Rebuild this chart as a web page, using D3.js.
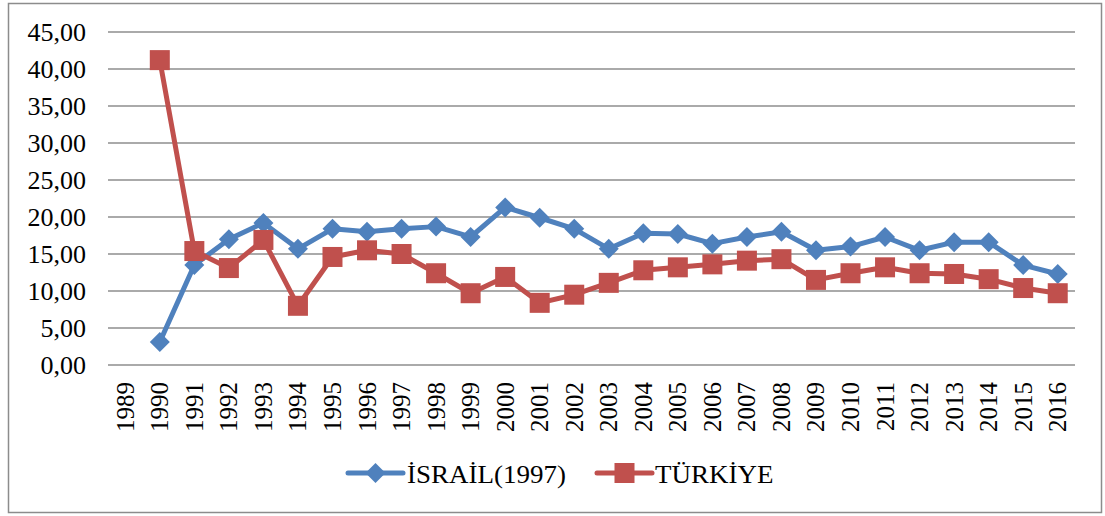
<!DOCTYPE html>
<html>
<head>
<meta charset="utf-8">
<script src="https://cdn.jsdelivr.net/npm/d3@7"></script>
<style>
  body { margin: 0; background: #fff; }
  text { font-family: "Liberation Serif", "Times New Roman", serif; fill: #000; }
</style>
</head>
<body>
<div id="chart"></div>
<script>
// years on the category axis
const years = d3.range(1989, 2017).map(String);
const yTicks = [0, 5, 10, 15, 20, 25, 30, 35, 40, 45];

// İsrail (1997) series, 1989 has no value
const israil = [null, 3.1, 13.5, 17.0, 19.2, 15.7, 18.4, 18.0, 18.4, 18.7, 17.3,
    21.3, 19.9, 18.4, 15.7, 17.8, 17.7, 16.4, 17.3, 18.0, 15.5,
    16.0, 17.3, 15.5, 16.6, 16.6, 13.5, 12.3];

// Türkiye series
const turkiye = [null, 41.2, 15.4, 13.1, 16.9, 8.0, 14.6, 15.5, 15.0, 12.4, 9.7,
    11.9, 8.4, 9.5, 11.1, 12.8, 13.2, 13.6, 14.1, 14.3, 11.5,
    12.4, 13.2, 12.4, 12.3, 11.6, 10.4, 9.7];

const width = 1105;
const height = 516;

const svg = d3.select('#chart').append('svg')
    .attr('width', width)
    .attr('height', height);

// outer frame
svg.append('rect')
   .attr('x', 8.5).attr('y', 3.5)
   .attr('width', 1093).attr('height', 509)
   .attr('fill', 'none')
   .attr('stroke', '#8c8c8c')
   .attr('stroke-width', 1.5);

const x = d3.scaleBand().domain(years).range([108, 1075]).padding(0);
const y = d3.scaleLinear().domain([0, 45]).range([365, 32]);

// gridlines
svg.append('g')
   .selectAll('line')
   .data(yTicks)
   .enter()
   .append('line')
   .attr('x1', 108).attr('x2', 1075)
   .attr('y1', d => y(d)).attr('y2', d => y(d))
   .attr('stroke', '#8e8e8e')
   .attr('stroke-width', 1.5);

const fmt = d => d.toFixed(2).replace('.', ',');

// y labels
svg.append('g')
   .selectAll('text')
   .data(yTicks)
   .enter()
   .append('text')
   .attr('transform', d => `translate(86,${y(d)}) scale(1.04,1)`)
   .attr('text-anchor', 'end')
   .attr('dy', '0.34em')
   .style('font-size', '25px')
   .text(fmt);

// x labels, rotated
svg.append('g')
   .selectAll('text')
   .data(years)
   .enter()
   .append('text')
   .attr('transform', d => `translate(${x(d) + x.bandwidth() / 2 + 8.5},382) rotate(-90)`)
   .attr('text-anchor', 'end')
   .style('font-size', '25px')
   .text(d => d);

const series = [
    {name: 'İSRAİL(1997)', values: israil, color: '#4F81BD', shape: 'diamond'},
    {name: 'TÜRKİYE', values: turkiye, color: '#C0504D', shape: 'square'}
];

const line = d3.line()
    .defined(d => d.v !== null)
    .x(d => x(d.year) + x.bandwidth() / 2)
    .y(d => y(d.v));

function marker(g, shape, color) {
    if (shape === 'diamond') {
        g.append('path')
         .attr('d', 'M0,-10L10,0L0,10L-10,0Z')
         .attr('fill', color);
    } else {
        g.append('rect')
         .attr('x', -10).attr('y', -10)
         .attr('width', 20).attr('height', 20)
         .attr('fill', color);
    }
}

series.forEach(s => {
    const pts = years.map((yr, i) => ({year: yr, v: s.values[i]}));
    svg.append('path')
       .datum(pts)
       .attr('fill', 'none')
       .attr('stroke', s.color)
       .attr('stroke-width', 5)
       .style('stroke-linejoin', 'round')
       .style('stroke-linecap', 'round')
       .attr('d', line);

    pts.filter(d => d.v !== null).forEach(d => {
        const g = svg.append('g')
            .attr('transform', `translate(${x(d.year) + x.bandwidth() / 2},${y(d.v)})`);
        marker(g, s.shape, s.color);
    });
});

// legend
const legendPos = [{lx: 348, tx: 407}, {lx: 597, tx: 655}];
series.forEach((s, i) => {
    const p = legendPos[i];
    svg.append('line')
       .attr('x1', p.lx).attr('x2', p.lx + 55)
       .attr('y1', 473).attr('y2', 473)
       .attr('stroke', s.color)
       .attr('stroke-width', 5)
       .style('stroke-linecap', 'round');
    const g = svg.append('g').attr('transform', `translate(${p.lx + 27.5},473)`);
    marker(g, s.shape, s.color);
    svg.append('text')
       .attr('transform', `translate(${p.tx},483) scale(1.08,1)`)
       .style('font-size', '25px')
       .text(s.name);
});
</script>
</body>
</html>
